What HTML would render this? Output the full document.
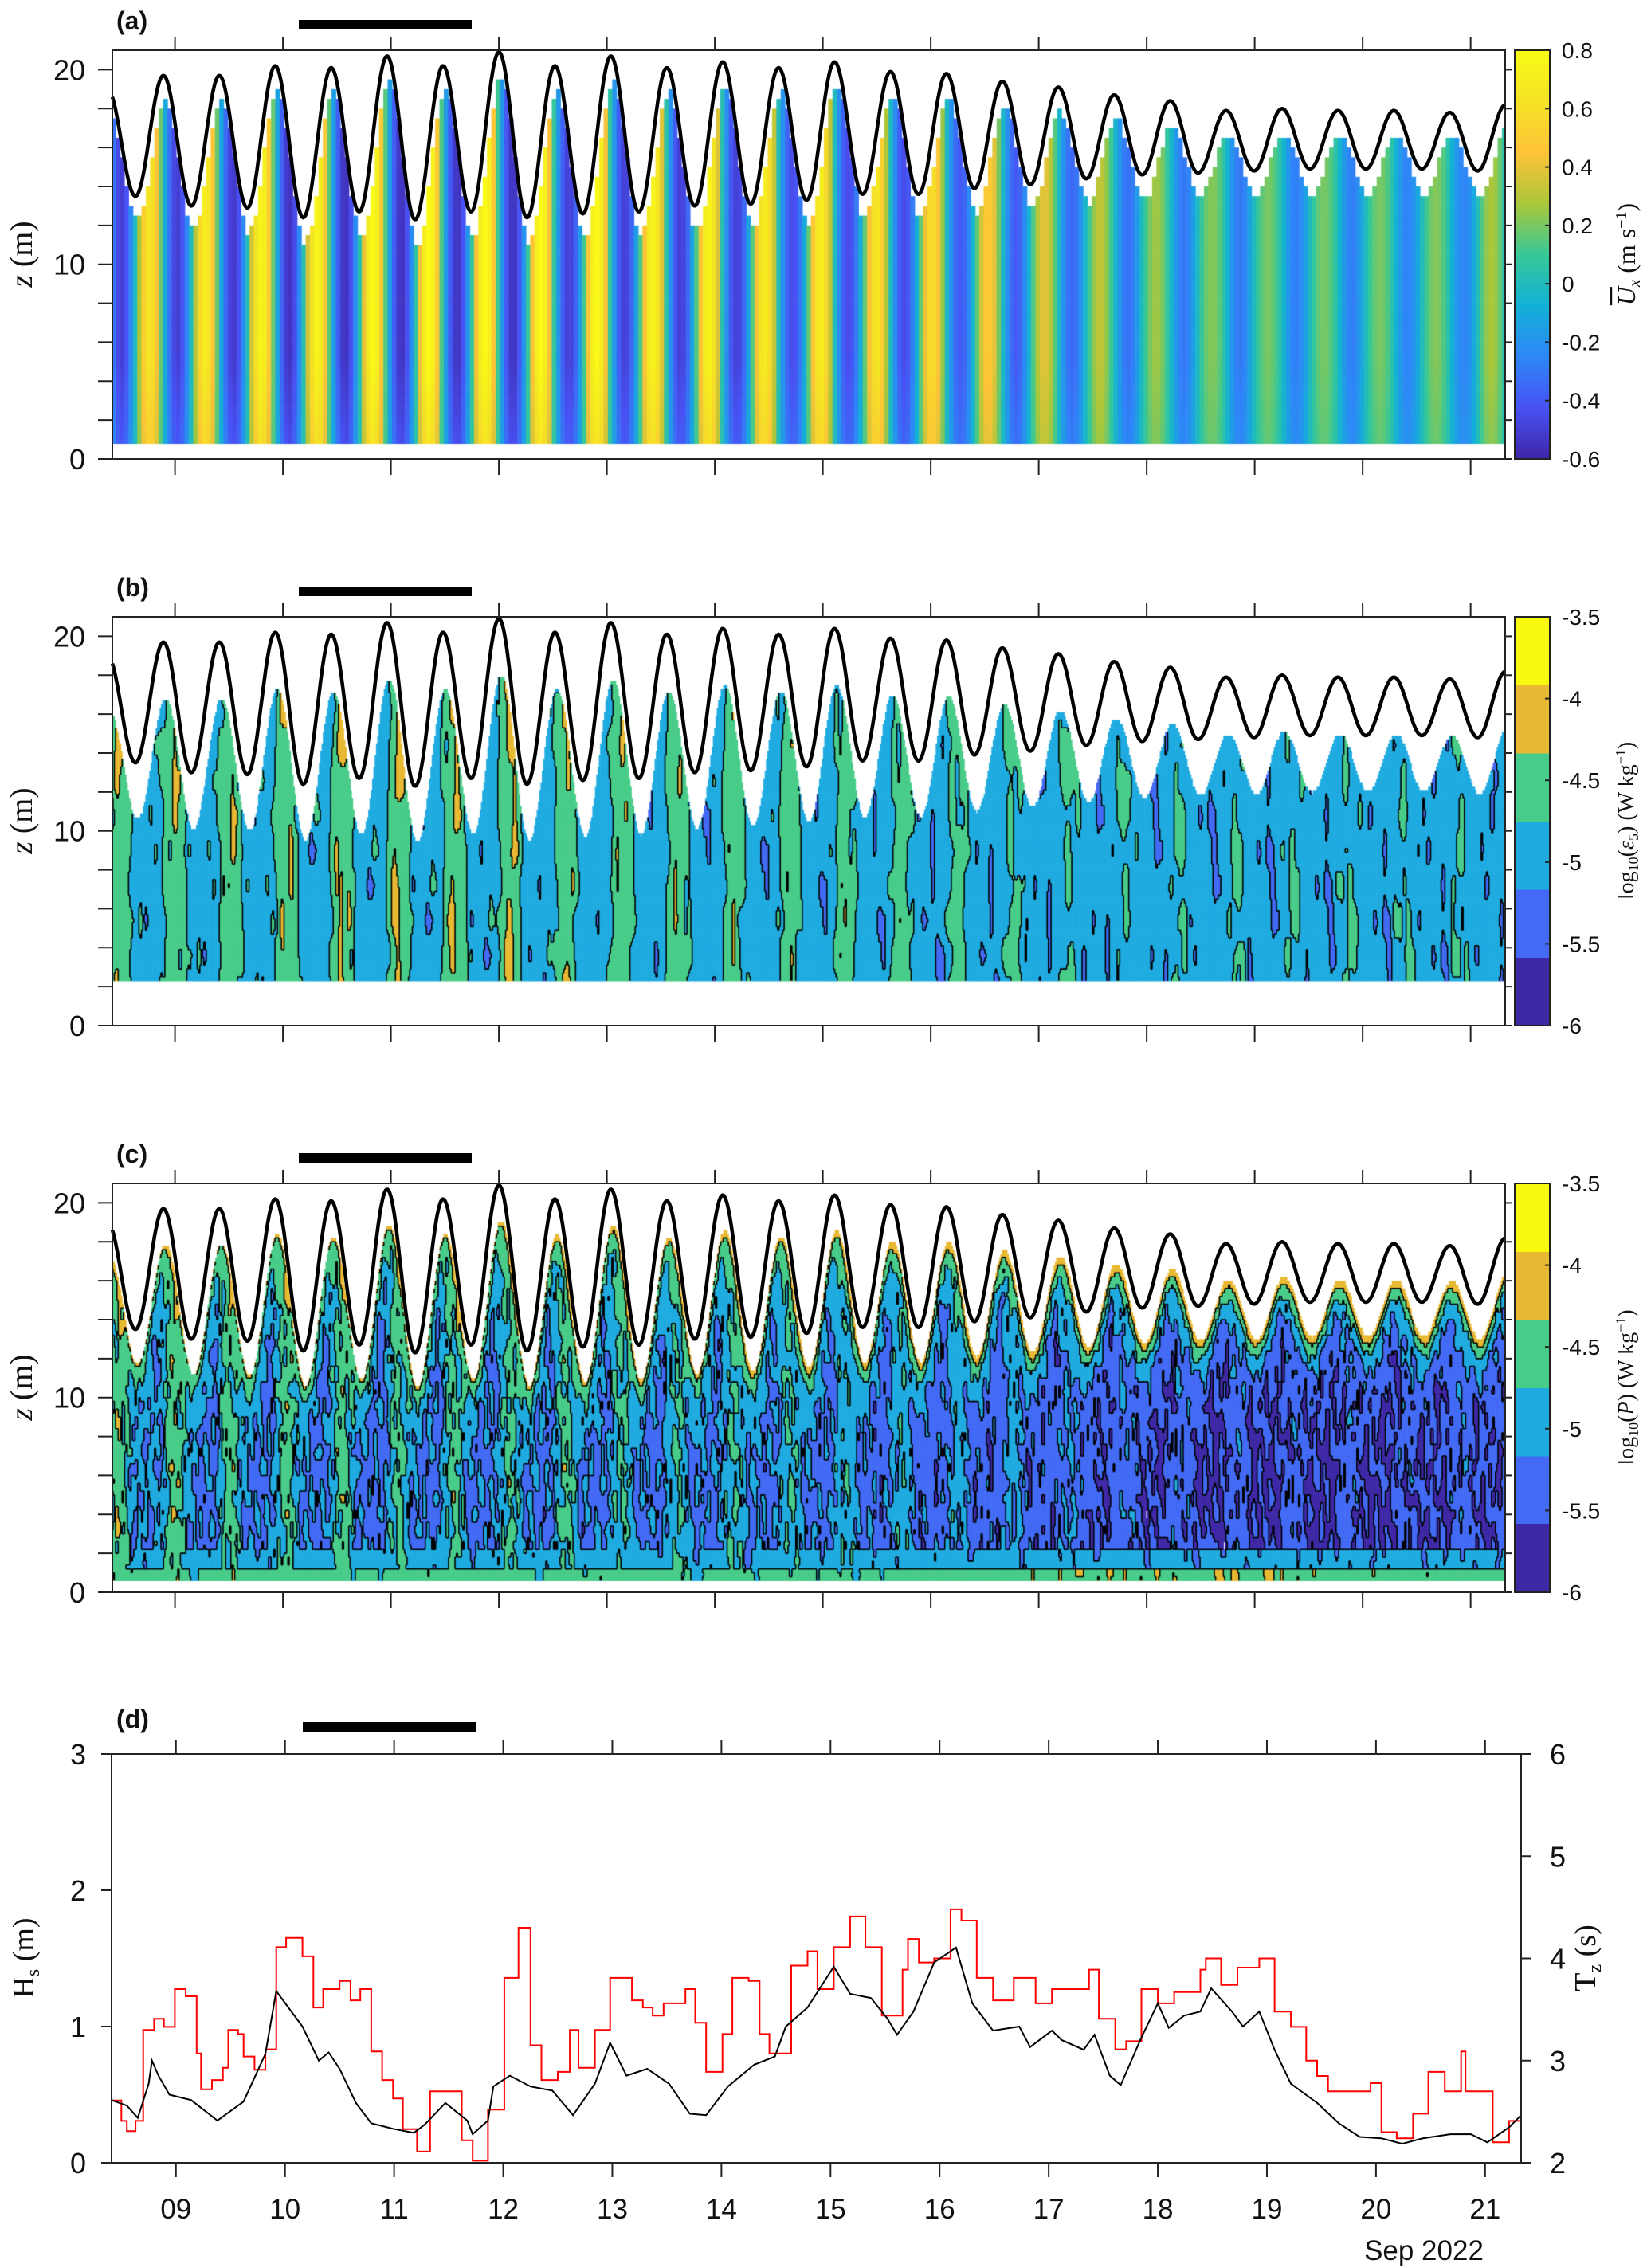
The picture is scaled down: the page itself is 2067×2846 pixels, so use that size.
<!DOCTYPE html>
<html><head><meta charset="utf-8">
<style>
html,body{margin:0;padding:0;background:#fff;}
#wrap{position:relative;width:2067px;height:2846px;overflow:hidden;background:#fff;}
#fld{position:absolute;left:0;top:0;}
#axes{position:absolute;left:0;top:0;}
text{font-family:"Liberation Sans",sans-serif;fill:#111;}
.serif{font-family:"Liberation Serif",serif;}
</style></head>
<body>
<div id="wrap">
<canvas id="fld" width="2067" height="2846"></canvas>
<svg id="axes" width="2067" height="2846" xmlns="http://www.w3.org/2000/svg">
<defs>
<linearGradient id="parula" x1="0" y1="1" x2="0" y2="0">
<stop offset="0" stop-color="rgb(62,38,168)"/><stop offset="0.125" stop-color="rgb(72,82,244)"/>
<stop offset="0.25" stop-color="rgb(46,135,247)"/><stop offset="0.375" stop-color="rgb(18,177,214)"/>
<stop offset="0.5" stop-color="rgb(55,200,151)"/><stop offset="0.625" stop-color="rgb(171,199,57)"/>
<stop offset="0.75" stop-color="rgb(254,195,56)"/><stop offset="0.875" stop-color="rgb(244,227,37)"/>
<stop offset="1" stop-color="rgb(249,251,21)"/>
</linearGradient>
</defs>
<g id="g"></g>
</svg>
</div>
<script>
// ---------- data ----------
const tideHigh=[19.7,19.7,20.2,20.1,20.7,20.2,20.9,20.2,20.7,20.1,20.4,20.1,20.4,19.9,19.8,19.4,19.1,18.7,18.4,17.9,18.0,17.9,17.9,17.8,18.2];
const tideLow=[13.5,13.0,12.9,12.4,12.7,12.3,12.7,12.4,12.6,12.7,13.0,13.1,13.3,13.6,13.6,13.9,14.1,14.4,14.6,14.7,14.8,14.9,14.9,14.9,14.8];
const tideFirstHigh=19.0;
const floodPeak=[0.65,0.7,0.75,0.75,0.8,0.8,0.8,0.8,0.8,0.75,0.75,0.7,0.7,0.65,0.6,0.5,0.4,0.32,0.26,0.22,0.2,0.2,0.2,0.22,0.28];
const ebbPeak=[-0.5,-0.52,-0.55,-0.55,-0.55,-0.55,-0.55,-0.5,-0.5,-0.5,-0.5,-0.45,-0.45,-0.45,-0.4,-0.4,-0.35,-0.32,-0.3,-0.3,-0.28,-0.28,-0.26,-0.26,-0.24];
const epsEbb=[-4.1,-4.1,-4.05,-4.0,-4.0,-4.05,-4.0,-4.1,-4.1,-4.1,-4.15,-4.2,-4.2,-4.25,-4.3,-4.4,-4.45,-4.5,-4.5,-4.5,-4.5,-4.5,-4.5,-4.5,-4.5];
const epsFlood=[-4.7,-4.7,-4.7,-4.75,-4.75,-4.75,-4.75,-4.75,-4.75,-4.8,-4.8,-4.8,-4.8,-4.8,-4.85,-4.85,-4.85,-4.85,-4.85,-4.85,-4.85,-4.85,-4.85,-4.85,-4.85];
const pBody=[-5.0,-5.1,-5.1,-5.1,-5.15,-5.1,-5.1,-5.1,-5.1,-5.15,-5.1,-5.1,-5.15,-5.2,-5.25,-5.3,-5.35,-5.45,-5.5,-5.55,-5.55,-5.55,-5.55,-5.5,-5.45];
const pStreak=[0.8,0.8,0.8,0.8,0.75,0.75,0.7,0.7,0.65,0.65,0.6,0.55,0.5,0.5,0.45,0.4,0.35,0.3,0.3,0.25,0.25,0.25,0.25,0.25,0.25];
const pSurface=[-3.9,-3.9,-3.9,-3.9,-3.85,-3.85,-3.85,-3.8,-3.8,-3.8,-3.75,-3.75,-3.7,-3.7,-3.65,-3.6,-3.55,-3.55,-3.55,-3.55,-3.55,-3.55,-3.55,-3.55,-3.55];
const pBottom=[-4.3,-4.3,-4.35,-4.35,-4.35,-4.3,-4.3,-4.35,-4.35,-4.4,-4.4,-4.4,-4.4,-4.35,-4.3,-4.2,-4.15,-4.1,-4.1,-4.1,-4.1,-4.15,-4.2,-4.25,-4.3];
const texA=[0.1,-0.3,0.25,-0.1,0.35,-0.25,0.05,0.2,-0.35,0.15,-0.05,0.3,-0.2,0.0,0.25,-0.15,0.1,-0.3,0.2,-0.1,0.3,-0.25,0.05,-0.4,0.15,0.35,-0.2,0.0,-0.1];
const texB=[-0.2,0.3,0.0,-0.35,0.15,0.25,-0.1,0.4,-0.3,0.05,0.2,-0.15,0.35,-0.25,0.1,-0.05,0.3,-0.4,0.2,0.0,-0.2,0.25,-0.3,0.1,0.4,-0.1,0.15,-0.35,0.05,0.3,-0.15];
const hsDay=[8.41,8.55,8.65,8.75,8.78,8.84,8.94,9.14,9.38,9.62,9.82,9.92,10.16,10.31,10.40,10.50,10.65,10.79,10.99,11.18,11.28,11.47,11.67,11.72,11.86,11.91,12.06,12.25,12.45,12.64,12.84,12.98,13.13,13.32,13.52,13.71,13.86,14.06,14.30,14.49,14.59,14.79,15.03,15.18,15.37,15.52,15.61,15.76,15.95,16.15,16.30,16.49,16.73,16.83,17.03,17.12,17.32,17.42,17.56,17.66,17.85,18.00,18.10,18.24,18.39,18.49,18.68,18.78,18.93,19.07,19.22,19.46,19.66,19.85,20.05,20.24,20.43,20.68,20.87,21.02,21.22,21.33];
const hsVal=[0.46,0.42,0.33,0.58,0.75,0.64,0.50,0.46,0.31,0.45,0.8,1.26,1.00,0.75,0.81,0.69,0.44,0.29,0.25,0.22,0.28,0.44,0.31,0.21,0.31,0.56,0.64,0.56,0.53,0.35,0.58,0.88,0.64,0.69,0.58,0.36,0.35,0.56,0.72,0.78,1.0,1.14,1.44,1.24,1.21,1.06,0.94,1.11,1.47,1.58,1.17,0.97,1.0,0.85,0.97,0.90,0.83,0.94,0.64,0.57,0.92,1.17,0.99,1.08,1.11,1.28,1.11,1.0,1.11,0.83,0.58,0.44,0.29,0.19,0.18,0.14,0.18,0.21,0.21,0.15,0.26,0.35];
const tzDay=[8.41,8.50,8.55,8.63,8.70,8.80,8.89,8.99,9.09,9.19,9.23,9.33,9.43,9.48,9.57,9.62,9.72,9.82,9.92,10.01,10.16,10.26,10.35,10.50,10.60,10.69,10.79,10.89,10.99,11.08,11.21,11.33,11.47,11.62,11.72,11.86,12.01,12.14,12.25,12.35,12.50,12.61,12.69,12.84,12.98,13.18,13.28,13.37,13.47,13.67,13.76,13.86,14.01,14.10,14.25,14.35,14.44,14.64,14.79,14.88,15.03,15.18,15.32,15.47,15.66,15.71,15.81,15.95,16.10,16.20,16.34,16.49,16.68,16.88,17.03,17.27,17.37,17.46,17.61,17.71,17.85,18.00,18.15,18.39,18.44,18.58,18.73,18.93,19.07,19.22,19.36,19.46,19.56,19.75,19.95,20.05,20.19,20.34,20.48,20.63,20.78,20.82,20.97,21.07,21.22,21.33];
const tzVal=[2.61,2.41,2.31,2.41,3.30,3.41,3.33,3.70,3.63,3.07,2.72,2.81,2.93,3.30,3.26,3.04,2.91,3.11,4.11,4.20,4.02,3.52,3.70,3.78,3.59,3.70,3.09,2.81,2.63,2.33,2.11,2.70,2.70,2.22,2.02,2.52,3.81,4.30,3.15,2.81,2.89,3.30,2.93,3.30,3.81,3.59,3.52,3.44,3.56,3.70,3.37,2.89,3.26,3.81,3.78,3.26,3.07,3.93,4.07,3.70,4.11,4.41,4.11,3.44,3.89,4.19,3.96,4.0,4.48,4.37,3.81,3.59,3.81,3.56,3.70,3.70,3.89,3.41,3.11,3.19,3.70,3.56,3.67,3.89,4.0,3.74,3.91,4.0,3.48,3.33,3.0,2.85,2.70,2.70,2.78,2.30,2.24,2.48,2.89,2.70,3.09,2.70,2.70,2.20,2.41,2.30];
const dayTicks=[9,10,11,12,13,14,15,16,17,18,19,20,21];
const dayLabels=["09","10","11","12","13","14","15","16","17","18","19","20","21"];
const zTicks=[0,10,20];
const zMinor=[2,4,6,8,12,14,16,18];
const cbA=[-0.6,-0.4,-0.2,0,0.2,0.4,0.6,0.8];
const cbALabels=["-0.6","-0.4","-0.2","0","0.2","0.4","0.6","0.8"];
const cbB=[-6,-5.5,-5,-4.5,-4,-3.5];
const cbBLabels=["-6","-5.5","-5","-4.5","-4","-3.5"];
const hsTicks=[0,1,2,3];
const tzTicks=[2,3,4,5,6];
const levelColors=["#3f28a6","#426af5","#1fabe0","#48cc89","#e8b932","#f8f810"];

// ---------- geometry ----------
const D0=8.42,D1=21.32,PL=141,PR=1889,PH=513,ZMAX=21;
const tops=[63,774,1485];
function X(d){return PL+(d-D0)/(D1-D0)*(PR-PL);}
function Y(p,z){return tops[p]+PH-z/ZMAX*PH;}
const DL=140,DR=1909,DT=2201,DB=2714,E0=8.41,E1=21.33;
function Xd(d){return DL+(d-E0)/(E1-E0)*(DR-DL);}
function Yhs(v){return DB-v/3*(DB-DT);}
function Ytz(v){return DB-(v-2)/4*(DB-DT);}

// ---------- tide ----------
const TS=8.375,TH=0.259;
const ext=[tideFirstHigh];
for(let k=0;k<tideLow.length;k++){ext.push(tideLow[k]);ext.push(tideHigh[k]);}
function eta(t){let j=(t-TS)/TH;if(j<0)j=0;let i=Math.floor(j),f=j-i;if(i>=ext.length-1){i=ext.length-2;f=1;}
 const a=ext[i],b=ext[i+1];return a+(b-a)*(1-Math.cos(Math.PI*f))/2;}
function phase(t){const c=(t-TS-TH)/(2*TH);let k=Math.floor(c);const ph=c-k;k=Math.max(0,Math.min(24,k));return {k:k,ph:ph};}

function lerp(a,b,f){return a.map((v,i)=>v+(b[i]-v)*f);}
const par=[[62,38,168],[72,82,244],[46,135,247],[18,177,214],[55,200,151],[171,199,57],[254,195,56],[244,227,37],[249,251,21]];
function parula(f){f=Math.max(0,Math.min(1,f))*8;let i=Math.min(7,Math.floor(f));const c=lerp(par[i],par[i+1],f-i);return "rgb("+c.map(Math.round).join(",")+")";}
function md(a,n){return ((a%n)+n)%n;}
function tex(i,j){return texA[md(i*3+j*7,texA.length)]+texB[md(j*2+i*5+Math.floor(i/3),texB.length)];}
function noise(u,v){const i=Math.floor(u),j=Math.floor(v);let fu=u-i,fv=v-j;fu=fu*fu*(3-2*fu);fv=fv*fv*(3-2*fv);
 const a=tex(i,j),b=tex(i+1,j),c=tex(i,j+1),d=tex(i+1,j+1);return (a+(b-a)*fu)*(1-fv)+(c+(d-c)*fu)*fv;}

const cv=document.getElementById('fld');const ctx=cv.getContext('2d');

// panel a
(function(){ctx.save();ctx.beginPath();ctx.rect(PL,tops[0],PR-PL,PH);ctx.clip();
 const dt=0.04;
 for(let t=D0-0.05;t<D1;t+=dt){const tc=t+dt/2;const p=phase(tc);const s=Math.sin(2*Math.PI*p.ph);
  const U=p.ph<0.5?floodPeak[p.k]*s:-ebbPeak[p.k]*s;
  const top=Math.floor((eta(tc-0.02)-1.0)/0.5)*0.5;
  for(let z=0.8;z<top;z+=0.5){const zz=Math.min(z+0.5,top);
   ctx.fillStyle=parula((U*(0.8+0.2*Math.min(1,z/5))+0.6)/1.4);
   ctx.fillRect(X(t),Y(0,zz),X(t+dt)-X(t)+0.6,Y(0,z)-Y(0,zz)+0.6);}
 }ctx.restore();})();

function drawLevels(p,grid,t0,dt,z0,dz){
 ctx.save();ctx.beginPath();ctx.rect(PL,tops[p],PR-PL,PH);ctx.clip();
 const nI=grid.length;
 for(let i=0;i<nI;i++){const col=grid[i];for(let j=0;j<col.length;j++){const c=col[j];if(c<0)continue;
  ctx.fillStyle=levelColors[c];const xa=X(t0+i*dt),xb=X(t0+(i+1)*dt),ya=Y(p,z0+(j+1)*dz),yb=Y(p,z0+j*dz);
  ctx.fillRect(xa,ya,xb-xa+0.6,yb-ya+0.6);}}
 ctx.strokeStyle="#000";ctx.lineWidth=1.6;ctx.beginPath();
 for(let i=0;i<nI;i++){const col=grid[i];for(let j=0;j<col.length;j++){const c=col[j];if(c<0)continue;
  const xa=X(t0+i*dt),xb=X(t0+(i+1)*dt),ya=Y(p,z0+(j+1)*dz),yb=Y(p,z0+j*dz);
  if(i+1<nI&&grid[i+1][j]!==undefined&&grid[i+1][j]>=0&&grid[i+1][j]!==c){ctx.moveTo(xb,ya);ctx.lineTo(xb,yb);}
  if(j+1<col.length&&col[j+1]>=0&&col[j+1]!==c){ctx.moveTo(xa,ya);ctx.lineTo(xb,ya);}
 }}ctx.stroke();ctx.restore();}
function cls(v){if(v<-6)return -1;return Math.max(0,Math.min(5,Math.floor((v+6)/0.5)));}

// panel b
(function(){const dt=0.012,dz=0.2,z0=2.3,t0=D0-0.03;const grid=[];
 for(let i=0;t0+i*dt<D1+0.03;i++){const tc=t0+(i+0.5)*dt;const p=phase(tc);
  const top=eta(tc-0.02)-2.9;const col=[];
  let bump=0;if(p.ph>=0.45&&p.ph<0.95)bump=Math.sin(Math.PI*(p.ph-0.45)/0.5);
  const base=epsFlood[p.k]+(epsEbb[p.k]-epsFlood[p.k])*bump;
  for(let j=0;z0+(j+0.5)*dz<top;j++){const z=z0+(j+0.5)*dz;const v=base+0.5*noise(tc/0.045,z/1.8);col.push(cls(v));}
  grid.push(col);}
 drawLevels(1,grid,t0,dt,z0,dz);})();

// panel c
(function(){const dt=0.012,dz=0.2,z0=0.6,t0=D0-0.03;const grid=[];
 for(let i=0;t0+i*dt<D1+0.03;i++){const tc=t0+(i+0.5)*dt;const p=phase(tc);
  const top=eta(tc-0.02)-1.8;const col=[];
  let bump=0;if(p.ph>=0.45&&p.ph<0.95)bump=Math.sin(Math.PI*(p.ph-0.45)/0.5);
  for(let j=0;z0+(j+0.5)*dz<top;j++){const z=z0+(j+0.5)*dz;const d=top-z;
   let v=pBody[p.k]+pStreak[p.k]*bump+0.75*noise(tc/0.03,z/0.8);
   v=v+(pSurface[p.k]-v)*Math.exp(-d/1.4);
   if(z<1.3)v=Math.max(v,pBody[p.k]*0+pBottom[p.k]+0.4*noise(tc/0.05,z));else if(z<2.2)v=Math.max(v,-4.85+0.5*noise(tc/0.04,z));
   col.push(cls(v));}
  grid.push(col);}
 drawLevels(2,grid,t0,dt,z0,dz);})();

// ---------- SVG ----------
const NS="http://www.w3.org/2000/svg";const G=document.getElementById('g');
function el(tag,attrs,parent){const e=document.createElementNS(NS,tag);for(const k in attrs)e.setAttribute(k,attrs[k]);(parent||G).appendChild(e);return e;}
function txt(s,x,y,size,anchor,parent,extra){const e=el('text',Object.assign({x:x,y:y,'font-size':size,'text-anchor':anchor||'start'},extra||{}),parent);e.textContent=s;return e;}

const letters=["(a)","(b)","(c)"];
for(let p=0;p<3;p++){const T=tops[p],B=T+PH;
 const grp=el('g',{});
 let dstr="";for(let t=D0;t<=D1+1e-6;t+=0.01){dstr+=(dstr?"L":"M")+X(t).toFixed(1)+","+Y(p,eta(t)).toFixed(1);}
 const tl=el('path',{d:dstr,fill:'none',stroke:'#000','stroke-width':4.5,'stroke-linejoin':'round'},grp);
 
 const box=el('rect',{x:PL,y:T,width:PR-PL,height:PH,fill:'none',stroke:'#222','stroke-width':2},grp);
 
 for(const d of dayTicks){const x=X(d);el('line',{x1:x,y1:T,x2:x,y2:T-17,stroke:'#222','stroke-width':2},grp);el('line',{x1:x,y1:B,x2:x,y2:B+20,stroke:'#222','stroke-width':2},grp);}
 for(const z of zTicks.concat(zMinor)){const y=Y(p,z);el('line',{x1:PL,y1:y,x2:PL-18,y2:y,stroke:'#222','stroke-width':2},grp);el('line',{x1:PR,y1:y,x2:PR+8,y2:y,stroke:'#222','stroke-width':2},grp);}
 for(const z of zTicks){const t=txt(String(z),107,Y(p,z)+13,36,'end',grp);}
 const yl=el('text',{x:0,y:0,'font-size':40,'text-anchor':'middle',transform:'translate(40,'+(T+256)+') rotate(-90)',class:'serif'},grp);
 yl.innerHTML='<tspan font-style="italic">z</tspan> (m)';
 const pl=txt(letters[p],146,T-26,32,'start',grp,{'font-weight':'bold'});
 const bar=el('rect',{x:375,y:T-38,width:217,height:12,fill:'#000'},grp);
 const cx=1901,cw=44;
 if(p===0){const r=el('rect',{x:cx,y:T,width:cw,height:PH,fill:'url(#parula)',stroke:'#222','stroke-width':2},grp);
  cbA.forEach((v,i)=>{const y=T+PH-(v+0.6)/1.4*PH;el('line',{x1:cx+cw,y1:y,x2:cx+cw-6,y2:y,stroke:'#222','stroke-width':2},grp);const t=txt(cbALabels[i],1960,y+10,28,'start',grp);});
  const ct=el('text',{x:0,y:0,'font-size':32,'text-anchor':'middle',transform:'translate(2052,'+(T+256)+') rotate(-90)',class:'serif'},grp);
  ct.innerHTML='<tspan font-style="italic" text-decoration="overline">U</tspan><tspan font-style="italic" font-size="21" dy="6">x</tspan><tspan dy="-6"> (m s</tspan><tspan font-size="20" dy="-11">−1</tspan><tspan dy="11">)</tspan>';
  
 } else {
  for(let i=0;i<6;i++){const y0=T+PH-(i+1)/6*PH;const r=el('rect',{x:cx,y:y0,width:cw,height:PH/6+0.5,fill:levelColors[i]},grp);}
  el('rect',{x:cx,y:T,width:cw,height:PH,fill:'none',stroke:'#222','stroke-width':2},grp);
  cbB.forEach((v,i)=>{const y=T+PH-(v+6)/2.5*PH;el('line',{x1:cx+cw,y1:y,x2:cx+cw-6,y2:y,stroke:'#222','stroke-width':2},grp);const t=txt(cbBLabels[i],1960,y+10,28,'start',grp);});
  const ct=el('text',{x:0,y:0,'font-size':28,'text-anchor':'middle',transform:'translate(2050,'+(T+256)+') rotate(-90)',class:'serif'},grp);
  ct.innerHTML=p===1?'log<tspan font-size="18" dy="6">10</tspan><tspan dy="-6">(</tspan><tspan font-style="italic">ε</tspan><tspan font-size="18" dy="6">5</tspan><tspan dy="-6">) (W kg</tspan><tspan font-size="18" dy="-10">−1</tspan><tspan dy="10">)</tspan>'
   :'log<tspan font-size="18" dy="6">10</tspan><tspan dy="-6">(</tspan><tspan font-style="italic">P</tspan>) (W kg<tspan font-size="18" dy="-10">−1</tspan><tspan dy="10">)</tspan>';
  
 }
}

// panel d
(function(){const grp=el('g',{});
 let d1="";hsDay.forEach((d,i)=>{d1+=(i?"L":"M")+Xd(d).toFixed(1)+","+Yhs(hsVal[i]).toFixed(1);});
 let d2="";tzDay.forEach((d,i)=>{if(i===0)d2="M"+Xd(d).toFixed(1)+","+Ytz(tzVal[i]).toFixed(1);else d2+="H"+Xd(d).toFixed(1)+"V"+Ytz(tzVal[i]).toFixed(1);});
 const l2=el('path',{d:d2,fill:'none',stroke:'#ff0000','stroke-width':2},grp);
 const l1=el('path',{d:d1,fill:'none',stroke:'#000','stroke-width':2},grp);
 const box=el('rect',{x:DL,y:DT,width:DR-DL,height:DB-DT,fill:'none',stroke:'#222','stroke-width':2},grp);
 dayTicks.forEach((d,i)=>{const x=Xd(d);el('line',{x1:x,y1:DT,x2:x,y2:DT-17,stroke:'#222','stroke-width':2},grp);el('line',{x1:x,y1:DB,x2:x,y2:DB+18,stroke:'#222','stroke-width':2},grp);
  const t=txt(dayLabels[i],x,2784,35,'middle',grp);});
 hsTicks.forEach(v=>{const y=Yhs(v);el('line',{x1:DL,y1:y,x2:DL-13,y2:y,stroke:'#222','stroke-width':2},grp);const t=txt(String(v),108,y+13,36,'end',grp);});
 tzTicks.forEach(v=>{const y=Ytz(v);el('line',{x1:DR,y1:y,x2:DR+13,y2:y,stroke:'#222','stroke-width':2},grp);const t=txt(String(v),1945,y+13,36,'start',grp);});
 const yl=el('text',{x:0,y:0,'font-size':38,'text-anchor':'middle',transform:'translate(42,2457) rotate(-90)',class:'serif'},grp);
 yl.innerHTML='H<tspan font-size="24" dy="7">s</tspan><tspan dy="-7"> (m)</tspan>';
 const yr=el('text',{x:0,y:0,'font-size':38,'text-anchor':'middle',transform:'translate(2002,2457) rotate(-90)',class:'serif'},grp);
 yr.innerHTML='T<tspan font-size="24" dy="7">z</tspan><tspan dy="-7"> (s)</tspan>';
 const pl=txt("(d)",146,2168,32,'start',grp,{'font-weight':'bold'});
 const bar=el('rect',{x:380,y:2161,width:217,height:13,fill:'#000'},grp);
 const xt=txt("Sep 2022",1787,2836,35,'middle',grp);
})();
</script>
</body></html>
